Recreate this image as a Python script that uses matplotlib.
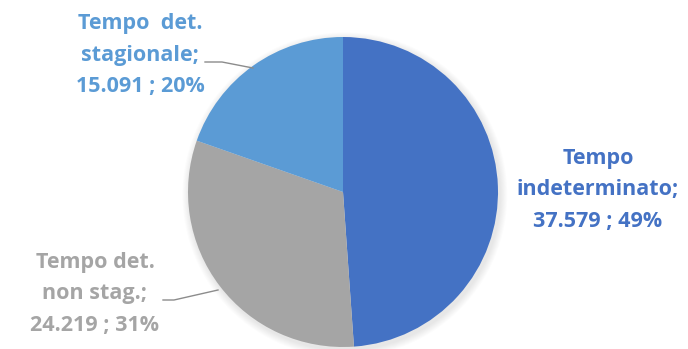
import matplotlib
matplotlib.use("Agg")
import matplotlib.pyplot as plt
from matplotlib.patches import Circle

categories = ["Tempo indeterminato", "Tempo det. non stag.", "Tempo det. stagionale"]
label_names = ["Tempo\nindeterminato;", "Tempo det.\nnon stag.;", "Tempo  det.\nstagionale;"]
values = [37579, 24219, 15091]
value_text = ["37.579", "24.219", "15.091"]
percents = [49, 31, 20]
colors = ["#4472C4", "#A5A5A5", "#5B9BD5"]

W, H = 688, 349
fig = plt.figure(figsize=(W / 100, H / 100), dpi=100)
fig.patch.set_facecolor("white")

cx, cy, r = 343, 192, 155  # pie centre and radius in pixels (top-left origin)
ax = fig.add_axes([(cx - r) / W, (H - cy - r) / H, 2 * r / W, 2 * r / H])
ax.set_xlim(-1, 1)
ax.set_ylim(-1, 1)
ax.set_aspect("equal")
ax.axis("off")

# soft shadow behind the pie
for i in range(8):
    ax.add_patch(Circle((0.012, -0.018), 1.0 + 0.006 * (8 - i), color="black",
                        alpha=0.012, lw=0, zorder=0, clip_on=False))

ax.pie(values, colors=colors, startangle=90, counterclock=False, radius=1.0,
       wedgeprops=dict(linewidth=0), frame=False)
ax.set_xlim(-1, 1)
ax.set_ylim(-1, 1)


def fx(px):
    return px / W


def fy(py):
    return (H - py) / H


label_pos = [(598, 190), (95, 294), (140, 55)]
for name, vt, pc, col, (px, py) in zip(label_names, value_text, percents, colors, label_pos):
    fig.text(fx(px), fy(py), f"{name}\n{vt} ; {pc}%", color=col, fontsize=15.5,
             fontweight="bold", family="Open Sans", ha="center", va="center",
             linespacing=1.65)

# leader lines
leaders = [
    [(205, 62), (222, 62), (253, 68)],
    [(163, 300), (174, 300), (218, 290)],
]
for pts in leaders:
    xs = [fx(p[0]) for p in pts]
    ys = [fy(p[1]) for p in pts]
    fig.add_artist(plt.Line2D(xs, ys, color="#8C8C8C", lw=1.0, transform=fig.transFigure))

fig.savefig("out.png", dpi=100)
